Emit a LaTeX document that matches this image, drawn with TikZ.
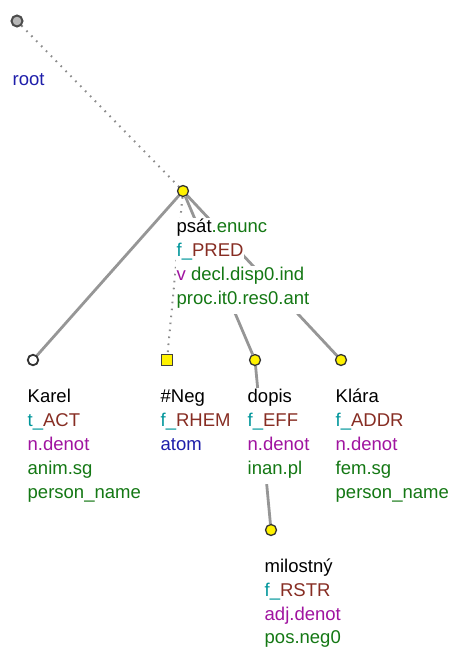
\documentclass[tikz,border=0pt]{standalone}
\usepackage{fontspec}
\setmainfont{Liberation Sans}
\usetikzlibrary{backgrounds}
\definecolor{cteal}{RGB}{0,150,155}
\definecolor{cbrown}{RGB}{135,45,35}
\definecolor{cpurple}{RGB}{160,20,160}
\definecolor{cgreen}{RGB}{20,120,20}
\definecolor{cblue}{RGB}{30,30,170}
\definecolor{cedge}{RGB}{150,150,150}
\definecolor{cdot}{RGB}{140,140,140}
\newcommand{\fsz}{\fontsize{18.5pt}{22pt}\selectfont}
\tikzset{
  lbl/.style={anchor=base west, fill=white, inner xsep=0.5pt, inner ysep=0pt, font=\fsz,
    text height=14.5pt, text depth=9.5pt},
  tnode/.style={circle, draw=black!80, line width=1.3pt, minimum size=11pt, inner sep=0pt, fill=yellow},
  knode/.style={circle, draw=black!80, line width=1.8pt, minimum size=10.5pt, inner sep=0pt, fill=white},
  rnode/.style={circle, draw=black!70, line width=2pt, minimum size=11pt, inner sep=0pt, fill=black!28},
  snode/.style={rectangle, draw=black!75, line width=1.1pt, minimum size=11pt, inner sep=0pt, fill=yellow},
  solidedge/.style={draw=cedge, line width=2.8pt},
  dotedge/.style={draw=cdot, line width=2pt, dash pattern=on 1.6pt off 5.4pt}
}
\begin{document}
\begin{tikzpicture}[x=1pt,y=-1pt]
\useasboundingbox (0,0) rectangle (455,648);
% tree nodes
\node[rnode] (root) at (17,21) {};
\node[tnode] (psat) at (183,191) {};
\node[knode] (karel) at (33,360) {};
\node[snode] (neg) at (167,360) {};
\node[tnode] (dopis) at (255,360) {};
\node[tnode] (klara) at (341,360) {};
\node[tnode] (milostny) at (271,530) {};
% edges
\begin{scope}[on background layer]
\draw[dotedge] (root) -- (psat);
\draw[solidedge] (psat) -- (karel);
\draw[dotedge] (psat) -- (neg);
\draw[solidedge] (psat) -- (dopis);
\draw[solidedge] (psat) -- (klara);
\draw[solidedge] (dopis) -- (milostny);
\end{scope}
% labels
\node[lbl, text=cblue] (rootL1) at (12,85) {root};
\node[lbl] (psatL1) at (176,232) {psát\textcolor{cgreen}{.enunc}};
\node[lbl] (psatL2) at (176,256) {\textcolor{cteal}{f\_}\textcolor{cbrown}{PRED}};
\node[lbl] (psatL3) at (176,280) {\textcolor{cpurple}{v} \textcolor{cgreen}{decl.disp0.ind}};
\node[lbl, text=cgreen] (psatL4) at (176,304) {proc.it0.res0.ant};
\node[lbl] (karelL1) at (27,402) {Karel};
\node[lbl] (karelL2) at (27,426) {\textcolor{cteal}{t\_}\textcolor{cbrown}{ACT}};
\node[lbl, text=cpurple] (karelL3) at (27,450) {n.denot};
\node[lbl, text=cgreen] (karelL4) at (27,474) {anim.sg};
\node[lbl, text=cgreen] (karelL5) at (27,498) {person\_name};
\node[lbl] (negL1) at (160,402) {\#Neg};
\node[lbl] (negL2) at (160,426) {\textcolor{cteal}{f\_}\textcolor{cbrown}{RHEM}};
\node[lbl, text=cblue] (negL3) at (160,450) {atom};
\node[lbl] (dopisL1) at (247,402) {dopis};
\node[lbl] (dopisL2) at (247,426) {\textcolor{cteal}{f\_}\textcolor{cbrown}{EFF}};
\node[lbl, text=cpurple] (dopisL3) at (247,450) {n.denot};
\node[lbl, text=cgreen] (dopisL4) at (247,474) {inan.pl};
\node[lbl] (klaraL1) at (335,402) {Klára};
\node[lbl] (klaraL2) at (335,426) {\textcolor{cteal}{f\_}\textcolor{cbrown}{ADDR}};
\node[lbl, text=cpurple] (klaraL3) at (335,450) {n.denot};
\node[lbl, text=cgreen] (klaraL4) at (335,474) {fem.sg};
\node[lbl, text=cgreen] (klaraL5) at (335,498) {person\_name};
\node[lbl] (milL1) at (264,572) {milostný};
\node[lbl] (milL2) at (264,596) {\textcolor{cteal}{f\_}\textcolor{cbrown}{RSTR}};
\node[lbl, text=cpurple] (milL3) at (264,620) {adj.denot};
\node[lbl, text=cgreen] (milL4) at (264,643) {pos.neg0};
\end{tikzpicture}
\end{document}
